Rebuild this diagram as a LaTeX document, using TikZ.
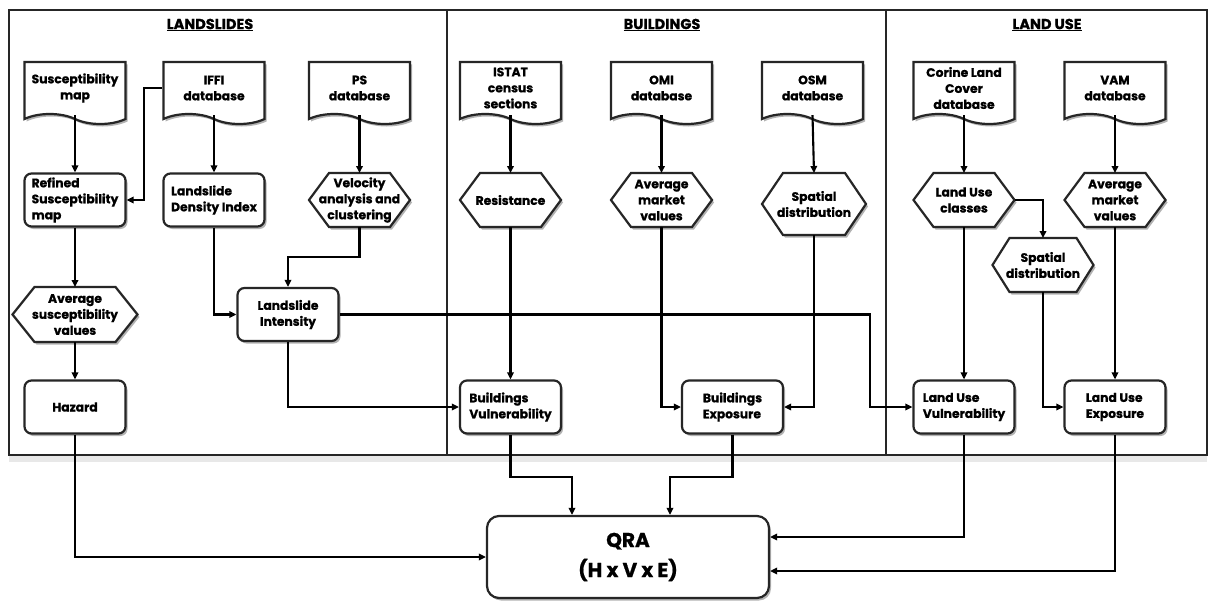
\documentclass[tikz,border=0pt]{standalone}
\usepackage{fontspec}
\setmainfont{Poppins}[BoldFeatures={FakeBold=0.9}]
\usetikzlibrary{shapes.symbols,shadows,arrows.meta,calc}
\pgfdeclarelayer{back}
\pgfdeclarelayer{mid}
\pgfsetlayers{back,mid,main}
\newcommand\hexframe[2][20pt]{%
  \begin{pgfonlayer}{mid}
  \draw[hexdraw] (#2.west) -- ([xshift=#1]#2.north west) -- ([xshift=-#1]#2.north east)
    -- (#2.east) -- ([xshift=-#1]#2.south east) -- ([xshift=#1]#2.south west) -- cycle;
  \end{pgfonlayer}}
\begin{document}
\begin{tikzpicture}[x=1pt,y=-1pt,
  every node/.style={font=\bfseries\fontsize{12.3}{16}\selectfont, text=black},
  shad/.style={drop shadow={shadow xshift=2pt,shadow yshift=-2.5pt,fill=black!50,opacity=.6}},
  base/.style={draw=black!85, line width=2.2pt, fill=white, inner sep=1pt, shad},
  docbox/.style={base, tape, tape bend top=none, tape bend bottom=out and in, tape bend height=10pt,
    minimum width=101pt, minimum height=62pt, align=center},
  procbox/.style={base, rounded corners=7pt, minimum width=101pt, minimum height=53pt, align=center},
  hexbox/.style={draw=none, fill=none, inner sep=1pt, outer sep=0pt,
    minimum width=101pt, minimum height=54pt, align=center},
  hexdraw/.style={draw=black!85, line width=2.2pt, fill=white, line join=miter, shad},
  panel/.style={draw=black!85, line width=1.5pt, fill=white,
    drop shadow={shadow xshift=0pt,shadow yshift=-7pt,fill=black!10,opacity=.9}},
  title/.style={font=\bfseries\fontsize{14.5}{16}\selectfont},
  arr/.style={line width=2.1pt, -{Triangle[length=7pt,width=6.5pt]}},
]
\useasboundingbox (0,0) rectangle (1208,602);
% panels
\begin{pgfonlayer}{back}
\draw[panel] (9,10) rectangle (447,455);
\draw[panel] (447,10) rectangle (886,455);
\draw[panel] (886,10) rectangle (1207,455);
\end{pgfonlayer}
\node[title] (t1) at (210,25) {\underline{LANDSLIDES}};
\node[title] (t2) at (662,25) {\underline{BUILDINGS}};
\node[title] (t3) at (1047,25) {\underline{LAND USE}};

% documents
\node[docbox] (sus) at (75,88) {Susceptibility\\map};
\node[docbox] (iffi) at (214,88) {IFFI\\database};
\node[docbox] (ps) at (359.5,88) {PS\\database};
\node[docbox] (istat) at (510.5,88) {ISTAT\\census\\sections};
\node[docbox] (omi) at (661.5,88) {OMI\\database};
\node[docbox] (osm) at (812.5,88) {OSM\\database};
\node[docbox] (corine) at (964,88) {Corine Land\\Cover\\database};
\node[docbox] (vam) at (1115,88) {VAM\\database};

% row 2
\node[procbox, align=left] (refined) at (75,200) {Refined\\Susceptibility\\map};
\node[procbox, align=left] (ldi) at (214,200) {Landslide\\Density Index};
\node[hexbox] (vel) at (359.5,200) {Velocity\\analysis and\\clustering};
\node[hexbox] (res) at (510.5,200) {Resistance};
\node[hexbox] (avgb) at (661.5,200) {Average\\market\\values};
\node[hexbox, minimum width=104pt, minimum height=62pt] (spatb) at (814,204) {Spatial\\distribution};
\node[hexbox] (luc) at (964,200) {Land Use\\classes};
\node[hexbox] (avgl) at (1115,200) {Average\\market\\values};
\node[hexbox] (spatl) at (1043,265) {Spatial\\distribution};

% row 3
\node[hexbox, minimum width=125pt, minimum height=55pt] (avgs) at (75,314.5) {Average\\susceptibility\\values};
\node[procbox] (li) at (288,314.5) {Landslide\\Intensity};

% row 4
\node[procbox] (haz) at (75,407) {Hazard};
\node[procbox, align=left] (bv) at (510.5,407) {Buildings\\Vulnerability};
\node[procbox, align=left] (be) at (732.5,407) {Buildings\\Exposure};
\node[procbox, align=left] (luv) at (964,407) {Land Use\\Vulnerability};
\node[procbox, align=left] (lue) at (1115,407) {Land Use\\Exposure};

% QRA
\node[procbox, minimum width=282pt, minimum height=82pt, rounded corners=12pt,
  font=\bfseries\fontsize{20}{30}\selectfont] (qra) at (628,557) {QRA\\(H~x~V~x~E)};

% hexagon frames
\hexframe{vel}
\hexframe{res}
\hexframe{avgb}
\hexframe[21pt]{spatb}
\hexframe{luc}
\hexframe{avgl}
\hexframe[17pt]{spatl}
\hexframe[22pt]{avgs}

\coordinate (k1) at (870,0);

% connectors landslides
\draw[arr] (sus.south) -- (refined.north);
\draw[arr] (iffi.west) -- ++(-18,0) |- (refined.east);
\draw[arr] (iffi.south) -- (ldi.north);
\draw[arr] (ps.south) -- (vel.north);
\draw[arr] (refined.south) -- (avgs.north);
\draw[arr] (avgs.south) -- (haz.north);
\draw[arr] (ldi.south) |- (li.west);
\draw[arr] (vel.south) -- ++(0,30) -| (li.north);
\draw[arr] (li.east) -| (k1 |- luv.west) -- (luv.west);
\draw[arr] (li.south) |- (bv.west);

% buildings
\draw[arr] (istat.south) -- (res.north);
\draw[arr] (res.south) -- (bv.north);
\draw[arr] (omi.south) -- (avgb.north);
\draw[arr] (avgb.south) |- (be.west);
\draw[arr] (osm.south) -- (spatb.north);
\draw[arr] (spatb.south) |- (be.east);

% land use
\draw[arr] (corine.south) -- (luc.north);
\draw[arr] (luc.south) -- (luv.north);
\draw[arr] (luc.east) -| (spatl.north);
\draw[arr] (spatl.south) |- (lue.west);
\draw[arr] (vam.south) -- (avgl.north);
\draw[arr] (avgl.south) -- (lue.north);

% to QRA
\draw[arr] (haz.south) |- (qra.west);
\draw[arr] (bv.south) -- ++(0,42) -| ([xshift=-56pt]qra.north);
\draw[arr] (be.south) -- ++(0,42) -| ([xshift=42pt]qra.north);
\draw[arr] (luv.south) |- ([yshift=20pt]qra.east);
\draw[arr] (lue.south) |- ([yshift=-14pt]qra.east);
\end{tikzpicture}
\end{document}
